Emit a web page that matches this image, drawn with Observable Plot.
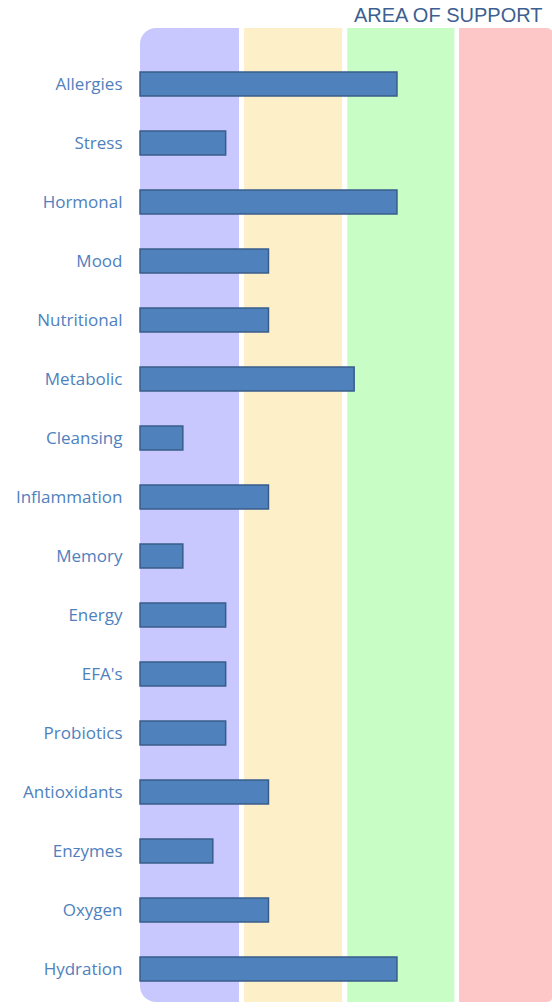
<!DOCTYPE html>
<html>
<head>
<meta charset="utf-8">
<script src="https://cdn.jsdelivr.net/npm/d3@7"></script>
<script src="https://cdn.jsdelivr.net/npm/@observablehq/plot@0.6"></script>
<style>
  html, body { margin: 0; padding: 0; background: #fff; }
  #chart svg { display: block; }
</style>
</head>
<body>
<div id="chart"></div>
<script>
const categories = ["Allergies","Stress","Hormonal","Mood","Nutritional","Metabolic","Cleansing","Inflammation","Memory","Energy","EFA's","Probiotics","Antioxidants","Enzymes","Oxygen","Hydration"];
const values = [6, 2, 6, 3, 3, 5, 1, 3, 1, 2, 2, 2, 3, 1.7, 3, 6];

const zoneStart = [0, 2.43, 4.84, 7.45];
const zoneEnd = [2.31, 4.72, 7.34, 9.64];
const zoneColors = ["#c8c8ff", "#fdefc8", "#c9fdc6", "#fec7c7"];

const title = "AREA OF SUPPORT";

const data = categories.map((c, i) => ({category: c, value: values[i]}));
const zones = zoneStart.map((s, i) => ({x1: s, x2: zoneEnd[i], color: zoneColors[i]}));

const plot = Plot.plot({
  width: 552,
  height: 1008,
  marginLeft: 140,
  marginRight: 0,
  marginTop: 28,
  marginBottom: 6,
  style: {fontFamily: "'Open Sans', sans-serif", background: "#fff"},
  x: {domain: [0, 9.62], axis: null},
  y: {domain: categories, paddingInner: 0.594, paddingOuter: 0.55, align: 0.68, label: null},
  marks: [
    Plot.rectX([zones[0]], {x1: "x1", x2: "x2", fill: "color", rx: 16}),
    Plot.rectX([zones[0]], {x1: d => (d.x1 + d.x2) / 2, x2: "x2", fill: "color"}),
    Plot.rectX([zones[1], zones[2]], {x1: "x1", x2: "x2", fill: "color"}),
    Plot.rectX([zones[3]], {x1: "x1", x2: "x2", fill: "color", rx: 6}),
    Plot.rectX([zones[3]], {x1: "x1", x2: d => (d.x1 + d.x2) / 2, fill: "color"}),
    Plot.barX(data, {x: "value", y: "category", fill: "#4f81bd", stroke: "#385d8a", strokeWidth: 1.5}),
    Plot.axisY({tickSize: 0, tickPadding: 18, fontSize: 17, color: "#4f81bd", fill: "#4f81bd", label: null}),
    Plot.text([title], {frameAnchor: "top-right", textAnchor: "end", lineAnchor: "middle", dx: -10, dy: -12.5, fontSize: 20, fill: "#3d5f91", fontFamily: "'Liberation Sans', Arial, sans-serif"})
  ]
});
document.getElementById("chart").appendChild(plot);
</script>
</body>
</html>
